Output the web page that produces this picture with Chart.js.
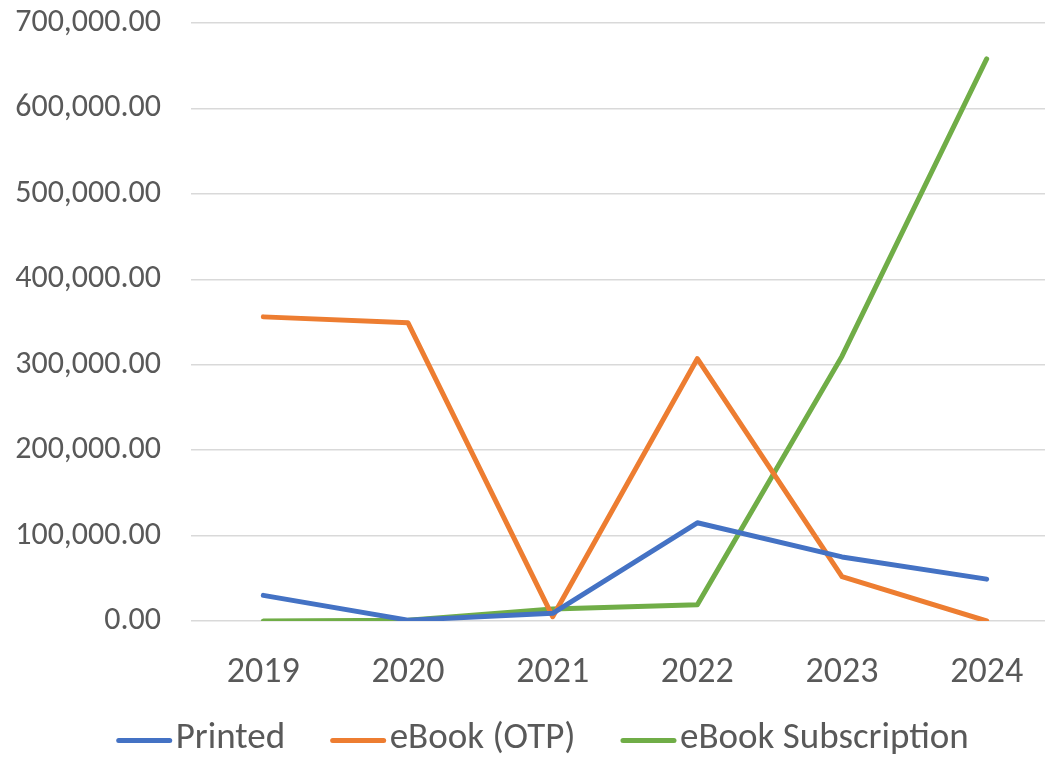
<!DOCTYPE html>
<html>
<head>
<meta charset="utf-8">
<script src="https://cdn.jsdelivr.net/npm/chart.js@4.4.1/dist/chart.umd.min.js"></script>
<style>
  html, body { margin: 0; padding: 0; background: #ffffff; overflow: hidden; width: 1045px; height: 758px; }
  canvas { display: block; }
</style>
</head>
<body>
<canvas id="c" width="1060" height="758" style="width:1060px;height:758px"></canvas>
<script>
const categories = ["2019", "2020", "2021", "2022", "2023", "2024"];
const seriesNames = ["Printed", "eBook (OTP)", "eBook Subscription"];
const printed = [30000, 1000, 9000, 115000, 75000, 49000];
const ebookOTP = [356000, 349000, 5000, 307000, 52000, 0];
const ebookSubscription = [0, 1000, 14000, 19000, 310000, 658000];
const yTicks = [0, 100000, 200000, 300000, 400000, 500000, 600000, 700000];

const colors = ["#4472C4", "#ED7D31", "#70AD47"];
const fontFamily = "Carlito, 'Open Sans', sans-serif";
const textColor = "#595959";

const makeSet = (label, data, color) => ({
  label, data,
  borderColor: color, backgroundColor: color,
  borderWidth: 5, pointRadius: 0, pointHoverRadius: 0,
  tension: 0, fill: false, borderCapStyle: 'round', borderJoinStyle: 'round'
});

// nudges the legend box and draws its line markers at the legend's own item positions
const legendLines = {
  id: 'legendLines',
  afterLayout(chart) {
    const lg = chart.legend;
    if (!lg) return;
    lg.top -= 21;
    lg.left += 13; lg.right += 13;
  },
  afterDraw(chart) {
    const lg = chart.legend;
    if (!lg || !lg.legendHitBoxes) return;
    const ctx = chart.ctx;
    ctx.save();
    ctx.lineCap = 'round';
    ctx.lineWidth = 5;
    lg.legendHitBoxes.forEach((hb, i) => {
      const y = hb.top + hb.height / 2 + 2;
      ctx.strokeStyle = chart.data.datasets[i].borderColor;
      ctx.beginPath();
      ctx.moveTo(hb.left + 2.5, y);
      ctx.lineTo(hb.left + 53.5, y);
      ctx.stroke();
    });
    ctx.restore();
  }
};

new Chart(document.getElementById('c'), {
  type: 'line',
  data: {
    labels: categories,
    datasets: [
      makeSet(seriesNames[0], printed, colors[0]),
      makeSet(seriesNames[1], ebookOTP, colors[1]),
      makeSet(seriesNames[2], ebookSubscription, colors[2])
    ]
  },
  plugins: [legendLines],
  options: {
    responsive: false,
    animation: false,
    devicePixelRatio: 1,
    layout: { padding: { top: 23, left: 0, right: 1, bottom: 0 } },
    plugins: {
      tooltip: { enabled: false },
      legend: {
        position: 'bottom',
        maxHeight: 62,
        labels: {
          color: textColor,
          font: { family: fontFamily, size: 37 },
          boxWidth: 41,
          boxHeight: 5,
          padding: 45,
          generateLabels: (chart) => chart.data.datasets.map((ds, i) => ({
            text: ds.label, fillStyle: 'rgba(0,0,0,0)', strokeStyle: 'rgba(0,0,0,0)',
            lineWidth: 0, fontColor: textColor, datasetIndex: i, hidden: false
          }))
        }
      }
    },
    scales: {
      x: {
        offset: true,
        grid: { display: false, drawTicks: false, offset: true },
        border: { display: false },
        ticks: { color: textColor, font: { family: fontFamily, size: 36 }, padding: 30, maxRotation: 0 },
        afterFit: (s) => { s.height = 75; s.paddingLeft = 0; s.paddingRight = 0; }
      },
      y: {
        min: 0, max: 700000,
        afterBuildTicks: (s) => { s.ticks = yTicks.map(v => ({ value: v })); },
        grid: { color: "#D9D9D9", lineWidth: 1.5, drawTicks: false },
        border: { display: false },
        ticks: {
          color: textColor, font: { family: fontFamily, size: 32 }, padding: 30,
          callback: (v) => Number(v).toLocaleString('en-US', { minimumFractionDigits: 2, maximumFractionDigits: 2 })
        },
        afterFit: (s) => { s.width = 191; s.paddingTop = 0; s.paddingBottom = 0; }
      }
    }
  }
});
</script>
</body>
</html>
